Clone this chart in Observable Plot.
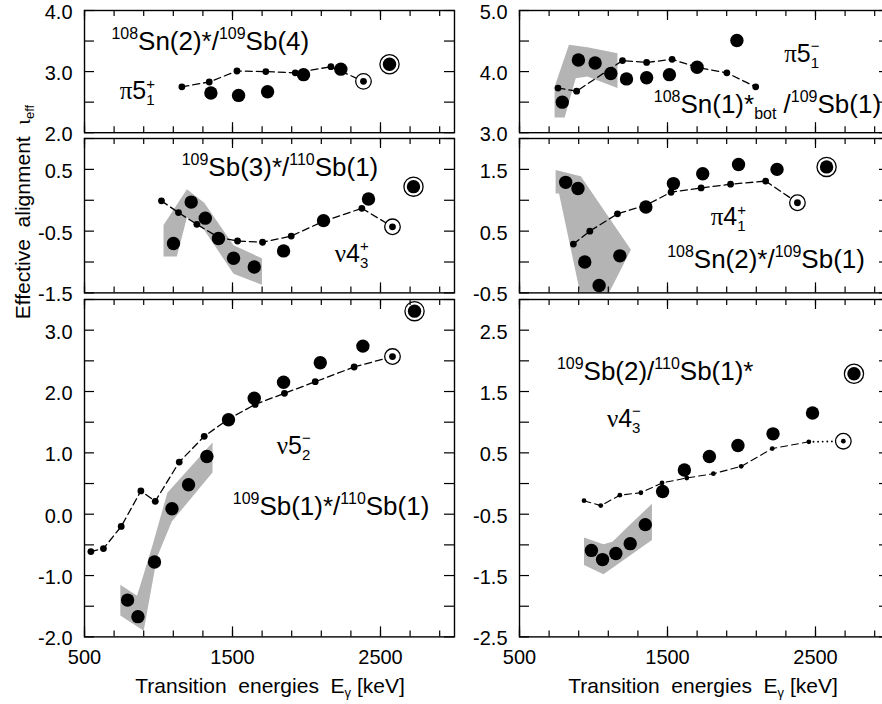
<!DOCTYPE html>
<html><head><meta charset="utf-8">
<script src="https://cdn.jsdelivr.net/npm/d3@7"></script>
<script src="https://cdn.jsdelivr.net/npm/@observablehq/plot@0.6"></script>
<style>
body{margin:0;background:#fff;overflow:hidden}
#chart{position:relative;width:882px;height:704px;overflow:hidden;background:#fff;font-family:"Liberation Sans",Arial,sans-serif;color:#000}
#chart svg{position:absolute;overflow:visible}
.xt{position:absolute;font-size:21px;line-height:21px;white-space:pre;text-align:center;width:360px}
.xt sub{font-size:13px;vertical-align:-4px;line-height:0}
.yt{position:absolute;font-size:21px;line-height:24px;height:24px;white-space:pre;text-align:center;width:340px;transform:rotate(-90deg)}
.yt sub{font-size:13px;vertical-align:-4px;line-height:0}
</style></head><body><div id="chart"></div>
<script>
// ================= DATA =================
const xTicks = [500,700,900,1100,1300,1500,1700,1900,2100,2300,2500,2700,2900];
const xMajor = [500,1500,2500];

// top-left: 108Sn(2)*/109Sb(4), pi 5_1^+
const tlTitle = "^{108}Sn(2)*/^{109}Sb(4)";
const tlOrbital = "π5_{1}^{+}";
const tlLineE = [1158,1343,1530,1725,1924,2165];
const tlLineV = [2.75,2.83,3.01,3.00,2.98,3.08];
const tlEndE = [2385], tlEndV = [2.84];
const tlBigE = [1354,1541,1737,1980,2232];
const tlBigV = [2.65,2.61,2.67,2.95,3.04];
const tlTopE = [2561], tlTopV = [3.12];
const tlBandE = [], tlBandV = [];
const tlYTicks = [2,2.5,3,3.5,4], tlYLabels = [2,3,4];

// top-right: 108Sn(1)*bot/109Sb(1), pi 5_1^-
const trTitle = "^{108}Sn(1)*_{bot} /^{109}Sb(1)";
const trOrbital = "π5_{1}^{−}";
const trLineE = [760,886,1196,1359,1531,1700,1901,2096];
const trLineV = [3.73,3.68,4.18,4.15,4.20,4.07,3.98,3.75];
const trEndE = [], trEndV = [];
const trBigE = [789,898,1011,1117,1223,1359,1513,1700,1969];
const trBigV = [3.50,4.19,4.14,3.97,3.88,3.90,3.95,4.07,4.51];
const trTopE = [], trTopV = [];
const trBandE = [737,834,959,1162,1162,959,880,805,737];
const trBandV = [3.75,4.44,4.40,4.30,3.73,3.92,3.89,3.25,3.25];
const trYTicks = [3,3.5,4,4.5,5], trYLabels = [3,4,5];

// middle-left: 109Sb(3)*/110Sb(1), nu 4_3^+
const mlTitle = "^{109}Sb(3)*/^{110}Sb(1)";
const mlOrbital = "ν4_{3}^{+}";
const mlLineE = [1020,1135,1259,1405,1534,1703,1897,2115,2374];
const mlLineV = [-0.01,-0.20,-0.39,-0.60,-0.66,-0.68,-0.58,-0.34,-0.13];
const mlEndE = [2581], mlEndV = [-0.43];
const mlBigE = [1101,1221,1316,1405,1507,1647,1845,2115,2419];
const mlBigV = [-0.70,-0.03,-0.29,-0.62,-0.94,-1.08,-0.82,-0.33,0.02];
const mlTopE = [2723], mlTopV = [0.22];
const mlBandE = [1034,1192,1309,1507,1699,1699,1507,1309,1192,1124,1034];
const mlBandV = [-0.40,0.18,-0.04,-0.73,-0.94,-1.37,-1.19,-0.48,-0.28,-0.91,-0.91];
const mlYTicks = [-1.5,-1,-0.5,0,0.5,1], mlYLabels = [-1.5,-0.5,0.5];

// middle-right: 108Sn(2)*/109Sb(1), pi 4_1^+
const mrTitle = "^{108}Sn(2)*/^{109}Sb(1)";
const mrOrbital = "π4_{1}^{+}";
const mrLineE = [864,975,1162,1354,1524,1727,1926,2163];
const mrLineV = [0.29,0.50,0.78,0.92,1.13,1.20,1.26,1.31];
const mrEndE = [2378], mrEndV = [0.96];
const mrBigE = [812,895,941,1038,1178,1354,1540,1738,1980,2240];
const mrBigV = [1.29,1.19,0.00,-0.38,0.10,0.89,1.27,1.43,1.58,1.50];
const mrTopE = [2575], mrTopV = [1.54];
const mrBandE = [744,914,1253,1094,914,767,744];
const mrBandV = [1.49,1.39,0.20,-0.55,-0.55,1.11,1.11];
const mrYTicks = [-0.5,0,0.5,1,1.5,2], mrYLabels = [-0.5,0.5,1.5];

// bottom-left: 109Sb(1)*/110Sb(1), nu 5_2^-
const blTitle = "^{109}Sb(1)*/^{110}Sb(1)";
const blOrbital = "ν5_{2}^{−}";
const blLineE = [543,628,748,881,978,1140,1309,1473,1653,1851,2059,2322];
const blLineV = [-0.61,-0.56,-0.20,0.38,0.21,0.85,1.27,1.55,1.79,1.97,2.16,2.40];
const blEndE = [2581], blEndV = [2.57];
const blBigE = [791,861,973,1091,1203,1327,1473,1647,1845,2093,2381];
const blBigV = [-1.40,-1.67,-0.78,0.09,0.48,0.94,1.54,1.89,2.15,2.47,2.74];
const blTopE = [2730], blTopV = [3.31];
const blBandE = [742,855,960,1060,1365,1365,1282,1090,990,900,742];
const blBandV = [-1.15,-1.33,-0.50,0.35,1.17,0.68,0.44,-0.12,-0.70,-1.90,-1.65];
const blYTicks = [-2,-1.5,-1,-0.5,0,0.5,1,1.5,2,2.5,3,3.5], blYLabels = [-2,-1,0,1,2,3];

// bottom-right: 109Sb(2)/110Sb(1)*, nu 4_3^-
const brTitle = "^{109}Sb(2)/^{110}Sb(1)*";
const brOrbital = "ν4_{3}^{−}";
const brLineE = [936,1049,1178,1320,1463,1630,1810,1998,2208,2455];
const brLineV = [-0.28,-0.36,-0.19,-0.15,0.01,0.09,0.16,0.28,0.57,0.68];
const brEndE = [2688], brEndV = [0.69];
const brBigE = [986,1061,1151,1248,1350,1467,1614,1783,1976,2213,2480];
const brBigV = [-1.09,-1.24,-1.14,-0.98,-0.67,-0.13,0.22,0.44,0.62,0.81,1.15];
const brTopE = [2760], brTopV = [1.79];
const brBandE = [936,1067,1128,1230,1395,1395,1230,1067,936];
const brBandV = [-0.88,-0.99,-0.95,-0.71,-0.33,-0.92,-1.20,-1.48,-1.33];
const brYTicks = [-2.5,-2,-1.5,-1,-0.5,0,0.5,1,1.5,2,2.5,3], brYLabels = [-2.5,-1.5,-0.5,0.5,1.5,2.5];

// ================= LAYOUT =================
const FW = 370; // frame width in px
const panels = [
  {left:84.3, top:9.5,   h:122.2, dom:[2,4],     yT:tlYTicks, yL:tlYLabels, showX:false, lineE:tlLineE, lineV:tlLineV, endE:tlEndE, endV:tlEndV, bigE:tlBigE, bigV:tlBigV, topE:tlTopE, topV:tlTopV, bandE:tlBandE, bandV:tlBandV,
   texts:[{s:tlTitle, at:[685,3.34], size:26},{s:tlOrbital, at:[741,2.54], size:25}], endDash:"dash", smallR:3.4, lw:1.3},
  {left:519, top:9.5,    h:122.2, dom:[3,5],     yT:trYTicks, yL:trYLabels, showX:false, lineE:trLineE, lineV:trLineV, endE:trEndE, endV:trEndV, bigE:trBigE, bigV:trBigV, topE:trTopE, topV:trTopV, bandE:trBandE, bandV:trBandV,
   texts:[{s:trTitle, at:[1411,3.32], size:26},{s:trOrbital, at:[2292,4.15], size:25}], endDash:"dash", smallR:3.4, lw:1.3},
  {left:84.3, top:138.3, h:154.4, dom:[-1.5,1],  yT:mlYTicks, yL:mlYLabels, showX:false, lineE:mlLineE, lineV:mlLineV, endE:mlEndE, endV:mlEndV, bigE:mlBigE, bigV:mlBigV, topE:mlTopE, topV:mlTopV, bandE:mlBandE, bandV:mlBandV,
   texts:[{s:mlTitle, at:[1160,0.38], size:26},{s:mlOrbital, at:[2194,-1.0], size:25}], endDash:"dash", smallR:3.4, lw:1.3},
  {left:519, top:138.3,  h:154.4, dom:[-0.5,2],  yT:mrYTicks, yL:mrYLabels, showX:false, lineE:mrLineE, lineV:mrLineV, endE:mrEndE, endV:mrEndV, bigE:mrBigE, bigV:mrBigV, topE:mrTopE, topV:mrTopV, bandE:mrBandE, bandV:mrBandV,
   texts:[{s:mrTitle, at:[1501,-0.11], size:26},{s:mrOrbital, at:[1795,0.59], size:25}], endDash:"dash", smallR:3.4, lw:1.3},
  {left:84.3, top:299.3, h:337.4, dom:[-2,3.5],  yT:blYTicks, yL:blYLabels, showX:true, lineE:blLineE, lineV:blLineV, endE:blEndE, endV:blEndV, bigE:blBigE, bigV:blBigV, topE:blTopE, topV:blTopV, bandE:blBandE, bandV:blBandV,
   texts:[{s:blTitle, at:[1505,-0.02], size:26},{s:blOrbital, at:[1802,0.98], size:25}], endDash:"dash", smallR:3.4, lw:1.3},
  {left:519, top:299.3,  h:337.4, dom:[-2.5,3],  yT:brYTicks, yL:brYLabels, showX:true, lineE:brLineE, lineV:brLineV, endE:brEndE, endV:brEndV, bigE:brBigE, bigV:brBigV, topE:brTopE, topV:brTopV, bandE:brBandE, bandV:brBandV,
   texts:[{s:brTitle, at:[756,1.68], size:26},{s:brOrbital, at:[1094,0.92], size:25}], endDash:"dot", smallR:2.4, lw:1.1}
];

const SANS = "Liberation Sans, Arial, Helvetica, sans-serif";
const SERIF = "Liberation Serif, Times New Roman, serif";

// rich text: ^{sup}, _{sub}; sub immediately followed by sup are stacked
function richMark(texts) {
  return (index, scales) => {
    const g = d3.create("svg:g");
    for (const t of texts) {
      const size = t.size, sm = Math.round(size * 0.6);
      const el = g.append("text")
        .attr("x", scales.x(t.at[0])).attr("y", scales.y(t.at[1]))
        .attr("font-family", SANS).attr("font-size", size).attr("fill", "black").attr("text-anchor", "start");
      const toks = t.s.match(/(\^\{[^}]*\}|_\{[^}]*\}|[πνγι]|[^\^_πνγι]+)/g);
      let shift = 0, prev = null, subW = 0;
      for (const tok of toks) {
        let kind = "n", txt = tok;
        if (tok.startsWith("^{")) { kind = "sup"; txt = tok.slice(2, -1); }
        else if (tok.startsWith("_{")) { kind = "sub"; txt = tok.slice(2, -1); }
        const ts = el.append("tspan").text(txt);
        const target = kind === "sup" ? -0.42 * size : kind === "sub" ? 0.24 * size : 0;
        ts.attr("dy", target - shift); shift = target;
        if (kind !== "n") ts.attr("font-size", sm);
        if ("πνγι".includes(txt)) ts.attr("font-family", SERIF);
        if (kind === "sup" && prev === "sub") ts.attr("dx", -subW);
        if (kind === "sub") subW = 0.556 * sm * txt.length;
        prev = kind;
      }
    }
    return g.node();
  };
}

const chart = document.getElementById("chart");
for (const p of panels) {
  const mL = 60, mR = 14, mT = 14, mB = p.showX ? 40 : 14;
  const pts = (E, V) => E.map((e, i) => ({E: e, v: V[i]}));
  const small = pts(p.lineE, p.lineV);
  const end = pts(p.endE, p.endV);
  const big = pts(p.bigE, p.bigV);
  const top = pts(p.topE, p.topV);
  const band = pts(p.bandE, p.bandV);
  const marks = [];
  if (band.length) marks.push(Plot.line(band, {x: "E", y: "v", fill: "#b4b4b4", stroke: "none", clip: true}));
  marks.push(Plot.line(small, {x: "E", y: "v", stroke: "black", strokeWidth: p.lw, strokeDasharray: "7,4"}));
  if (end.length) {
    const seg = [small[small.length - 1], end[0]];
    marks.push(Plot.line(seg, p.endDash === "dot"
      ? {x: "E", y: "v", stroke: "black", strokeWidth: 1.8, strokeDasharray: "0.1,4.5", strokeLinecap: "round"}
      : {x: "E", y: "v", stroke: "black", strokeWidth: p.lw, strokeDasharray: "7,4"}));
  }
  marks.push(Plot.dot(small, {x: "E", y: "v", r: p.smallR, fill: "black"}));
  marks.push(Plot.dot(big, {x: "E", y: "v", r: 6.7, fill: "black"}));
  if (end.length) {
    marks.push(Plot.dot(end, {x: "E", y: "v", r: 7.8, fill: "white", stroke: "black", strokeWidth: 1.3}));
    marks.push(Plot.dot(end, {x: "E", y: "v", r: p.smallR, fill: "black"}));
  }
  if (top.length) {
    marks.push(Plot.dot(top, {x: "E", y: "v", r: 9.6, fill: "white", stroke: "black", strokeWidth: 1.3}));
    marks.push(Plot.dot(top, {x: "E", y: "v", r: 6.7, fill: "black"}));
  }
  marks.push(Plot.frame({stroke: "black", strokeWidth: 1.4}));
  // inward ticks
  const tk = {stroke: "black", strokeWidth: 1.2};
  marks.push(Plot.tickY(p.yT, {y: d => d, insetRight: FW - 10, ...tk}));
  marks.push(Plot.tickY(p.yT, {y: d => d, insetLeft: FW - 10, ...tk}));
  marks.push(Plot.tickX(xTicks, {x: d => d, insetTop: p.h - 6, ...tk}));
  marks.push(Plot.tickX(xMajor, {x: d => d, insetTop: p.h - 10, ...tk}));
  marks.push(Plot.tickX(xTicks, {x: d => d, insetBottom: p.h - 6, ...tk}));
  marks.push(Plot.tickX(xMajor, {x: d => d, insetBottom: p.h - 10, ...tk}));
  marks.push(Plot.axisY({ticks: p.yL, tickSize: 0, tickPadding: 12, dy: 2, fontSize: 20, label: null, tickFormat: d => d.toFixed(1), fill: "black"}));
  if (p.showX) marks.push(Plot.axisX({ticks: xMajor, tickSize: 0, tickPadding: 13, fontSize: 20, label: null, tickFormat: d => String(d), fill: "black"}));
  marks.push(richMark(p.texts));

  const svg = Plot.plot({
    width: mL + FW + mR, height: mT + p.h + mB,
    marginLeft: mL, marginRight: mR, marginTop: mT, marginBottom: mB,
    x: {domain: [500, 3000], axis: null},
    y: {domain: p.dom, axis: null},
    style: {fontFamily: SANS, fontSize: "20px", background: "none", overflow: "visible", color: "black", maxWidth: "none"},
    marks
  });
  svg.style.position = "absolute";
  svg.style.left = (p.left - mL) + "px";
  svg.style.top = (p.top - mT) + "px";
  chart.appendChild(svg);
}

// axis titles
function addDiv(cls, html, css) {
  const d = document.createElement("div");
  d.className = cls; d.innerHTML = html;
  Object.assign(d.style, css);
  chart.appendChild(d);
}
addDiv("xt", "Transition  energies  E<sub>γ</sub> [keV]", {left: (270 - 180) + "px", top: "675px"});
addDiv("xt", "Transition  energies  E<sub>γ</sub> [keV]", {left: (703 - 180) + "px", top: "675px"});
addDiv("yt", "Effective  alignment  <span style=\"font-family:'Liberation Serif',serif\">ι</span><sub>eff</sub>", {left: (23 - 170) + "px", top: (212 - 12) + "px"});
</script></body></html>
